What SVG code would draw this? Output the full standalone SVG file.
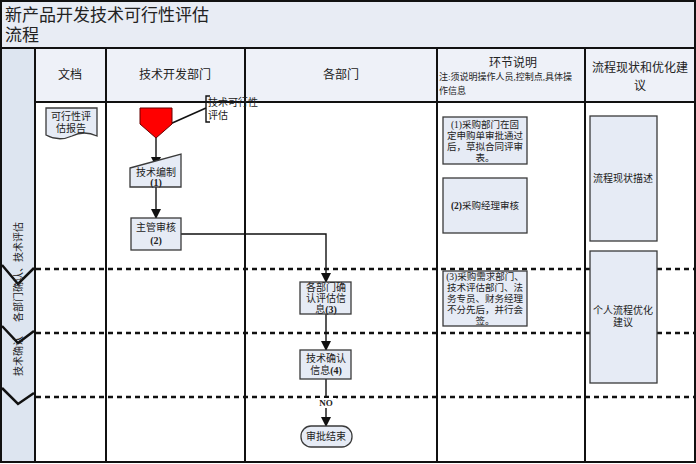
<svg xmlns="http://www.w3.org/2000/svg" width="696" height="464" viewBox="0 0 696 464">
<defs>
<style>
text{font-family:"Liberation Serif","Noto Sans CJK SC",serif;fill:#222;}
.t{font-size:10px;text-anchor:middle;}
.b{font-weight:bold;}
.box{fill:#E6EBF5;stroke:#3a3a3a;stroke-width:1.3;}
.grid{stroke:#111;stroke-width:2;fill:none;}
.dash{stroke:#111;stroke-width:2.5;stroke-dasharray:5 4;fill:none;}
.conn{stroke:#111;stroke-width:1.4;fill:none;}
.chev{stroke:#111;stroke-width:2.5;fill:none;}
</style>
<marker id="ah" markerWidth="10" markerHeight="10" refX="9" refY="5" orient="auto" markerUnits="userSpaceOnUse">
<path d="M0,0 L10,5 L0,10 z" fill="#111"/>
</marker>
</defs>
<rect x="0" y="0" width="696" height="464" fill="#fff"/>
<!-- backgrounds -->
<rect x="1" y="1" width="694" height="47" fill="#E8ECF4"/>
<rect x="35" y="48" width="660" height="54" fill="#EEF1F8"/>
<rect x="1" y="48" width="34" height="414" fill="#DDE5F0"/>
<!-- title -->
<text x="5" y="21" style="font-size:17px">新产品开发技术可行性评估</text>
<text x="5" y="41" style="font-size:17px">流程</text>
<!-- grid -->
<g id="grid">
<rect x="1" y="1" width="694" height="461" class="grid"/>
<line x1="1" y1="48" x2="695" y2="48" class="grid"/>
<line x1="35" y1="102" x2="695" y2="102" class="grid"/>
<line x1="35" y1="48" x2="35" y2="462" class="grid"/>
<line x1="106" y1="48" x2="106" y2="462" class="grid"/>
<line x1="245" y1="48" x2="245" y2="462" class="grid"/>
<line x1="437" y1="48" x2="437" y2="462" class="grid"/>
<line x1="585" y1="48" x2="585" y2="462" class="grid"/>
<line x1="36" y1="269" x2="695" y2="269" class="dash"/>
<line x1="36" y1="333" x2="695" y2="333" class="dash"/>
<line x1="36" y1="397" x2="695" y2="397" class="dash"/>
<polyline points="2,265 18,284 34,268" class="chev"/>
<polyline points="2,326 18,343 34,331" class="chev"/>
<polyline points="2,388 18,404 34,393" class="chev"/>
</g>
<!-- headers -->
<g id="headers">
<text x="70" y="79" class="t" style="font-size:12px">文档</text>
<text x="175" y="79" class="t" style="font-size:12px">技术开发部门</text>
<text x="341" y="79" class="t" style="font-size:12px">各部门</text>
<text x="513" y="67" class="t" style="font-size:12px">环节说明</text>
<text x="439" y="80" style="font-size:9px">注:须说明操作人员,控制点,具体操</text>
<text x="439" y="94" style="font-size:9px">作信息</text>
<text x="640" y="72" class="t" style="font-size:12px">流程现状和优化建</text>
<text x="640" y="90" class="t" style="font-size:12px">议</text>
</g>
<!-- lane labels -->
<g id="lanes">
<text transform="translate(22,272) rotate(-90)" class="t" style="font-size:10px">各部门确认、技术评估</text>
<text transform="translate(22,356) rotate(-90)" class="t" style="font-size:10px">技术确认</text>
</g>
<!-- connectors -->
<g id="connectors">
<line x1="170" y1="124" x2="206" y2="108" class="conn"/>
<line x1="156" y1="138" x2="156" y2="166" class="conn" stroke-width="2" marker-end="url(#ah)"/>
<line x1="156" y1="187" x2="156" y2="218" class="conn" stroke-width="2" marker-end="url(#ah)"/>
<polyline points="181,234 326,234 326,282" class="conn" marker-end="url(#ah)"/>
<line x1="326" y1="314" x2="326" y2="350" class="conn" marker-end="url(#ah)"/>
<line x1="326" y1="379" x2="326" y2="426" class="conn" marker-end="url(#ah)"/>
<rect x="316" y="398" width="20" height="10" fill="#fff"/>
<text x="326" y="406" class="t b" style="font-size:9px">NO</text>
</g>
<!-- nodes -->
<g id="doc">
<path d="M46,108 H97 V136 Q84,130 72,136 Q59,142 46,135 Z" class="box"/>
<text x="71" y="120" class="t">可行性评</text>
<text x="71" y="132" class="t">估报告</text>
</g>
<g id="start">
<path d="M140,108 H172 V124 L156,138 L140,124 Z" fill="#FF0000" stroke="#600" stroke-width="1"/>
</g>
<g id="note">
<polyline points="210,96 206,96 206,122 210,122" class="conn" stroke-width="1"/>
<text x="208" y="106" style="font-size:10px">技术可行性</text>
<text x="208" y="119" style="font-size:10px">评估</text>
</g>
<g id="n1">
<path d="M130,168 L181,154 V187 H130 Z" class="box"/>
<text x="156" y="176" class="t">技术编制</text>
<text x="156" y="186" class="t b">(1)</text>
</g>
<g id="n2">
<rect x="131" y="218" width="50" height="32" class="box"/>
<text x="156" y="231" class="t">主管审核</text>
<text x="156" y="244" class="t b">(2)</text>
</g>
<g id="n3">
<rect x="300" y="282" width="51" height="32" class="box"/>
<text x="326" y="291" class="t">各部门确</text>
<text x="326" y="302" class="t">认评估信</text>
<text x="326" y="313" class="t">息<tspan class="b">(3)</tspan></text>
</g>
<g id="n4">
<rect x="300" y="350" width="51" height="29" class="box"/>
<text x="326" y="362" class="t">技术确认</text>
<text x="326" y="374" class="t">信息<tspan class="b">(4)</tspan></text>
</g>
<g id="end">
<rect x="301" y="426" width="51" height="21" rx="10" class="box"/>
<text x="326" y="440" class="t">审批结束</text>
</g>
<g id="d1">
<rect x="443" y="117" width="84" height="47" class="box"/>
<text x="485" y="128" class="t" style="font-size:9.5px">(1)采购部门在固</text>
<text x="485" y="139" class="t" style="font-size:9.5px">定申购单审批通过</text>
<text x="485" y="150" class="t" style="font-size:9.5px">后，草拟合同评审</text>
<text x="485" y="161" class="t" style="font-size:9.5px">表。</text>
</g>
<g id="d2">
<rect x="443" y="178" width="84" height="55" class="box"/>
<text x="485" y="209" class="t" style="font-size:9.5px"><tspan class="b">(2)</tspan>采购经理审核</text>
</g>
<g id="d3">
<rect x="443" y="271" width="84" height="55" class="box"/>
<text x="485" y="280" class="t" style="font-size:9.5px">(3)采购需求部门、</text>
<text x="485" y="291" class="t" style="font-size:9.5px">技术评估部门、法</text>
<text x="485" y="302" class="t" style="font-size:9.5px">务专员、财务经理</text>
<text x="485" y="313" class="t" style="font-size:9.5px">不分先后，并行会</text>
<text x="485" y="324" class="t" style="font-size:9.5px">签。</text>
</g>
<g id="r1">
<rect x="590" y="116" width="67" height="125" class="box"/>
<text x="623" y="182" class="t">流程现状描述</text>
</g>
<g id="r2">
<rect x="590" y="251" width="67" height="132" class="box"/>
<text x="623" y="314" class="t">个人流程优化</text>
<text x="623" y="326" class="t">建议</text>
</g>
</svg>
